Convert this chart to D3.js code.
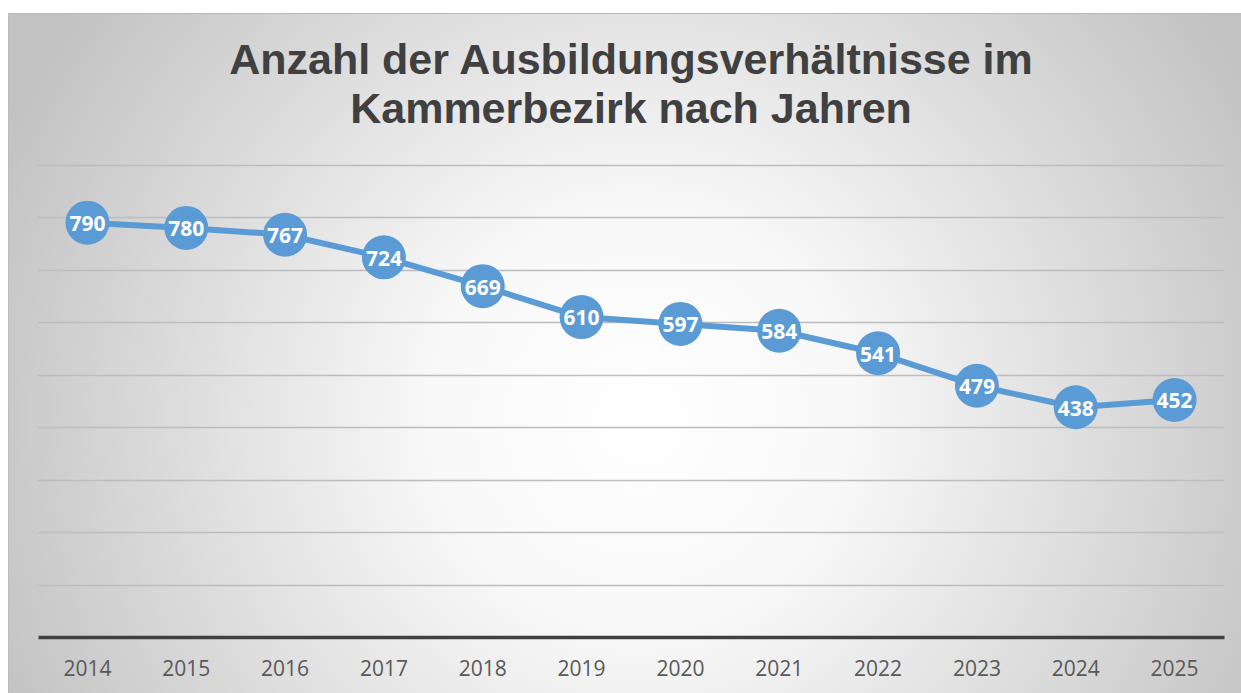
<!DOCTYPE html>
<html>
<head>
<meta charset="utf-8">
<script src="https://cdn.jsdelivr.net/npm/d3@7"></script>
<style>
  html, body { margin: 0; padding: 0; background: #fff; }
  svg { display: block; }
</style>
</head>
<body>
<svg id="chart" width="1241" height="693"></svg>
<script>
const years = ['2014', '2015', '2016', '2017', '2018', '2019', '2020', '2021', '2022', '2023', '2024', '2025'];
const counts = [790, 780, 767, 724, 669, 610, 597, 584, 541, 479, 438, 452];
const yTicks = [0, 100, 200, 300, 400, 500, 600, 700, 800, 900];
const titleLines = ['Anzahl der Ausbildungsverhältnisse im', 'Kammerbezirk nach Jahren'];

const WIDTH = 1241, HEIGHT = 693;
const MARGIN = {top: 165, right: 17, bottom: 56, left: 38};

const svg = d3.select('#chart');

// background with radial gradient
const defs = svg.append('defs');
const grad = defs.append('radialGradient')
    .attr('id', 'bg')
    .attr('gradientUnits', 'userSpaceOnUse')
    .attr('cx', 640).attr('cy', 420).attr('r', 700);
grad.append('stop').attr('offset', '0%').attr('stop-color', '#ffffff');
grad.append('stop').attr('offset', '30%').attr('stop-color', '#f8f8f8');
grad.append('stop').attr('offset', '100%').attr('stop-color', '#c2c2c2');

svg.append('rect')
    .attr('x', 8).attr('y', 13)
    .attr('width', WIDTH - 8).attr('height', HEIGHT - 13)
    .attr('fill', 'url(#bg)');
svg.append('line')
    .attr('x1', 8).attr('x2', WIDTH).attr('y1', 13.5).attr('y2', 13.5)
    .attr('stroke', '#b8b8b8').attr('stroke-width', 1);
svg.append('line')
    .attr('x1', 8.5).attr('x2', 8.5).attr('y1', 13).attr('y2', HEIGHT)
    .attr('stroke', '#bcbcbc').attr('stroke-width', 1);

// title
svg.append('text')
    .attr('x', 631).attr('y', 74)
    .attr('text-anchor', 'middle')
    .attr('font-family', 'Liberation Sans, Arial, sans-serif')
    .attr('font-weight', 'bold')
    .attr('font-size', 43)
    .attr('fill', '#404040')
    .selectAll('tspan')
    .data(titleLines)
    .join('tspan')
    .attr('x', 631)
    .attr('dy', (d, i) => i === 0 ? 0 : 49)
    .text(d => d);

const xScale = d3.scaleBand()
    .domain(years)
    .range([MARGIN.left, WIDTH - MARGIN.right]);

const yScale = d3.scaleLinear()
    .domain([0, 900])
    .range([HEIGHT - MARGIN.bottom, MARGIN.top]);

// gridlines
svg.append('g')
    .selectAll('line')
    .data(yTicks.filter(d => d > 0))
    .join('line')
    .attr('x1', MARGIN.left).attr('x2', WIDTH - MARGIN.right)
    .attr('y1', d => Math.round(yScale(d)) + 0.5)
    .attr('y2', d => Math.round(yScale(d)) + 0.5)
    .attr('stroke', '#bdbdbd')
    .attr('stroke-width', 1.3);

// x axis
const xAxis = d3.axisBottom(xScale).tickSize(0).tickPadding(24);
const gx = svg.append('g')
    .attr('transform', `translate(0, ${yScale(0)})`)
    .call(xAxis);
gx.select('.domain')
    .attr('stroke', '#404040')
    .attr('stroke-width', 3.5);
gx.selectAll('text')
    .attr('font-family', 'Open Sans, sans-serif')
    .attr('font-size', 21)
    .attr('fill', '#595959');

// line
const cx = d => xScale(d) + xScale.bandwidth() / 2;
const line = d3.line()
    .x((d, i) => cx(years[i]))
    .y(d => yScale(d));

svg.append('path')
    .datum(counts)
    .attr('d', line)
    .attr('fill', 'none')
    .attr('stroke', '#5b9bd5')
    .attr('stroke-width', 6)
    .attr('stroke-linejoin', 'round');

// markers
svg.append('g')
    .selectAll('circle')
    .data(counts)
    .join('circle')
    .attr('cx', (d, i) => cx(years[i]))
    .attr('cy', d => yScale(d))
    .attr('r', 22)
    .attr('fill', '#5b9bd5');

// labels
svg.append('g')
    .selectAll('text')
    .data(counts)
    .join('text')
    .attr('x', (d, i) => cx(years[i]))
    .attr('y', d => yScale(d))
    .attr('dy', '0.4em')
    .attr('text-anchor', 'middle')
    .attr('font-family', 'Open Sans, sans-serif')
    .attr('font-weight', 'bold')
    .attr('font-size', 21)
    .attr('fill', '#ffffff')
    .text(d => d);
</script>
</body>
</html>
